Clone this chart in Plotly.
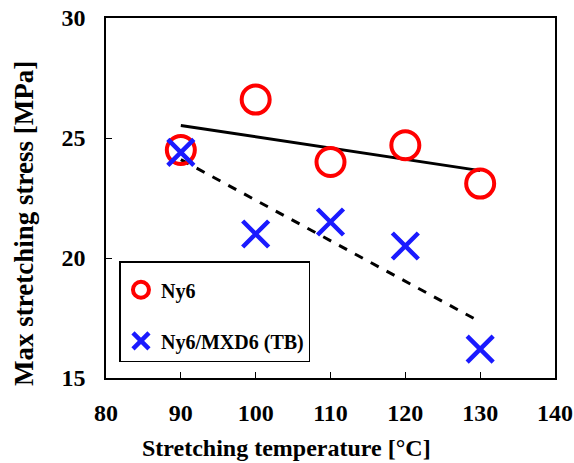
import numpy as np
import plotly.graph_objects as go

temps = [90, 100, 110, 120, 130]
ny6 = [24.5, 26.6, 24.0, 24.7, 23.1]
ny6_mxd6 = [24.4, 21.0, 21.5, 20.5, 16.2]
x_ticks = [80, 90, 100, 110, 120, 130, 140]
y_ticks = [15, 20, 25, 30]

FONT = "Liberation Serif"

def fit(x, y):
    k, b = np.polyfit(x, y, 1)
    xs = [min(x), max(x)]
    return xs, [k * v + b for v in xs]

fig = go.Figure()
fx, fy = fit(temps, ny6)
fig.add_trace(go.Scatter(x=fx, y=fy, mode="lines", line=dict(color="black", width=3),
                         showlegend=False, hoverinfo="skip"))
gx, gy = fit(temps, ny6_mxd6)
fig.add_trace(go.Scatter(x=gx, y=gy, mode="lines", line=dict(color="black", width=3, dash="dash"),
                         showlegend=False, hoverinfo="skip"))
fig.add_trace(go.Scatter(x=temps, y=ny6, mode="markers", name="<b>Ny6</b>", legendgroup="a",
                         marker=dict(symbol="circle-open", size=28, color="#ff0000",
                                     line=dict(width=4, color="#ff0000"))))
fig.add_trace(go.Scatter(x=temps, y=ny6_mxd6, mode="markers", name="<b>Ny6/MXD6 (TB)</b>", legendgroup="b",
                         marker=dict(symbol="x-thin-open", size=26, color="#1a1aff",
                                     line=dict(width=4.5, color="#1a1aff"))))

axis_common = dict(showgrid=False, zeroline=False, showline=True, linecolor="black", linewidth=1.5,
                   mirror=True, ticks="inside", ticklen=6, tickcolor="black", automargin=False,
                   ticklabeloverflow="allow",
                   tickfont=dict(family=FONT, size=24, color="black"))
fig.update_xaxes(range=[80, 140], tickvals=x_ticks, ticktext=[f"<b>{v}</b>" for v in x_ticks],
                 ticklabelstandoff=12, **axis_common)
fig.update_yaxes(range=[15, 30], tickvals=y_ticks, ticktext=[f"<b>{v}</b>" for v in y_ticks],
                 ticklabelstandoff=14, **axis_common)

fig.update_layout(
    width=574, height=463,
    margin=dict(l=106, r=19, t=18, b=85),
    plot_bgcolor="white", paper_bgcolor="white",
    legend=dict(x=0.03, y=0.325, xanchor="left", yanchor="top",
                bordercolor="black", borderwidth=1.5, bgcolor="white",
                font=dict(family=FONT, size=20, color="black"),
                title=dict(text=" ", font=dict(size=6)),
                tracegroupgap=22, itemwidth=30),
    annotations=[
        dict(text="<b>Max stretching stress [MPa]</b>", textangle=-90,
             xref="paper", yref="paper", x=-0.183, y=0.43,
             xanchor="center", yanchor="middle", showarrow=False,
             font=dict(family=FONT, size=27, color="black")),
        dict(text="<b>Stretching temperature [°C]</b>",
             xref="paper", yref="paper", x=0.402, y=-0.195,
             xanchor="center", yanchor="middle", showarrow=False,
             font=dict(family=FONT, size=24, color="black")),
    ],
)
fig.write_html("out.html", config={"displayModeBar": False},
               post_script="document.body.style.margin='0';document.body.style.overflow='hidden';")
